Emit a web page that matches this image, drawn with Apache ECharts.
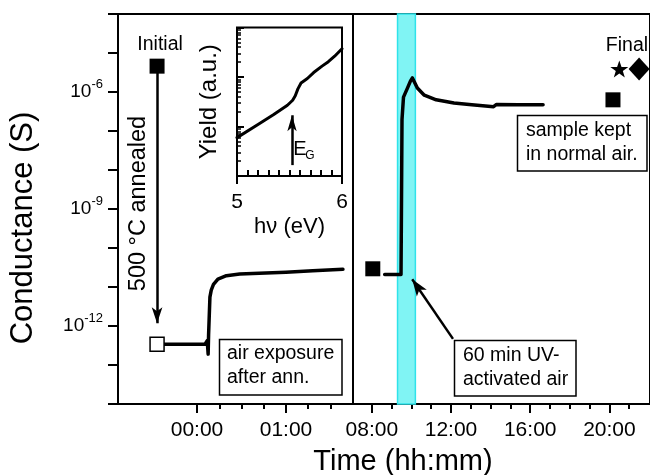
<!DOCTYPE html>
<html>
<head>
<meta charset="utf-8">
<title>Conductance vs time</title>
<script src="https://cdn.jsdelivr.net/npm/echarts@6/dist/echarts.min.js"></script>
<style>
  html, body { margin: 0; padding: 0; background: #fff; }
  #chart { width: 650px; height: 475px; }
</style>
</head>
<body>
<div id="chart"></div>
<script>
// ---- data -------------------------------------------------------------
// air exposure after annealing: time (h relative to exposure start), conductance (S)
const airTimes = [-0.382, 0.09, 0.115, 0.125, 0.13, 0.145, 0.16, 0.185, 0.235, 0.33, 0.48, 0.7, 1.0, 1.3, 1.64];
const airConductance = [3.4e-13, 3.4e-13, 4.2e-13, 1.9e-13, 5.9e-13, 5.5e-12, 8.3e-12, 1.17e-11, 1.6e-11, 1.95e-11, 2.15e-11, 2.25e-11, 2.4e-11, 2.6e-11, 2.85e-11];

// UV-activated air run: clock time (h), conductance (S)
const uvTimes = [8.65, 9.475, 9.5, 9.525, 9.6, 9.8, 9.95, 10.05, 10.15, 10.3, 10.65, 11.25, 12.15, 13.05, 14.15, 14.3, 15.4, 16.65];
const uvConductance = [2.1e-11, 2.1e-11, 1.7e-9, 2.0e-7, 7.4e-7, 1.26e-6, 1.9e-6, 2.3e-6, 1.8e-6, 1.26e-6, 8.3e-7, 6.3e-7, 5.2e-7, 4.7e-7, 4.2e-7, 4.8e-7, 4.7e-7, 4.7e-7];
const uvWindow = [9.3, 10.2];

// single measurements [time (h), conductance (S)]
const initialPoint = [-0.449, 4.6e-6];
const annealedPoint = [-0.449, 3.4e-13];
const beforeUvPoint = [8.05, 2.93e-11];
const normalAirPoint = [20.18, 6.3e-7];
const finalStarPoint = [20.5, 3.9e-6];
const finalDiamondPoint = [21.5, 3.9e-6];

// photoemission yield inset: photon energy (eV), yield (a.u.)
const photonEnergy = [5.0, 5.2, 5.35, 5.48, 5.53, 5.555, 5.58, 5.61, 5.67, 5.73, 5.81, 5.87, 5.93, 6.0];
const yieldAU = [5.96, 11.0, 17.4, 26.9, 33.9, 41.7, 57.5, 75.9, 93.3, 123, 166, 204, 263, 372];
const bandGapEnergy = 5.524;

// ticks and labels
const airMajorHours = [0, 1];
const airMinorHours = [0.25, 0.5, 0.75, 1.25, 1.5];
const clockMajorHours = [8, 12, 16, 20];
const clockMinorHours = [9, 10, 11, 13, 14, 15, 17, 18, 19, 21];
const conductanceLabelExps = [-12, -9, -6];
const insetEnergyMajor = [5, 6];
const insetEnergyMinor = [5.1, 5.2, 5.3, 5.4, 5.5, 5.6, 5.7, 5.8, 5.9];
const insetYieldDecades = [0, 1, 2, 3];

// ---- helpers ----------------------------------------------------------
const FONT = "'Liberation Sans', Arial, Helvetica, sans-serif";
const lg = v => Math.log10(v);
const toLogPairs = (xs, ys) => xs.map((x, i) => [x, lg(ys[i])]);
const pt = p => [p[0], lg(p[1])];
const pad2 = n => (n < 10 ? '0' : '') + n;
const hhmm = h => {
  const m = Math.round(h * 60);
  return pad2(Math.floor(m / 60)) + ':' + pad2(m % 60);
};
const insetMinorLogs = [];
insetYieldDecades.slice(0, -1).forEach(d => {
  for (let k = 2; k <= 9; k++) insetMinorLogs.push(d + Math.log10(k));
});

const black = '#000';
const tickStyle = { color: black, width: 2 };
const noLine = { show: false, onZero: false };
const starPath = 'path://M50,0 L61.8,35.1 L98.1,35.1 L68.8,56.8 L79.4,91 L50,70 L20.6,91 L31.2,56.8 L1.9,35.1 L38.2,35.1 Z';

const arrowLine = (from, to, size) => ({
  silent: true,
  symbol: ['none', 'arrow'],
  symbolSize: size,
  label: { show: false },
  emphasis: { disabled: true },
  lineStyle: { color: black, width: 2.5, type: 'solid', opacity: 1 },
  data: [[{ coord: from }, { coord: to }]]
});

// ---- chart ------------------------------------------------------------
const chart = echarts.init(document.getElementById('chart'));

const option = {
  animation: false,
  backgroundColor: '#fff',
  textStyle: { fontFamily: FONT, color: black },
  grid: [
    { left: 118, top: 14, width: 235, height: 390, show: true, borderColor: black, borderWidth: 2, backgroundColor: 'transparent' },
    { left: 353, top: 14, width: 300, height: 390, show: true, borderColor: black, borderWidth: 2, backgroundColor: 'transparent' },
    { left: 237, top: 27.5, width: 105, height: 148.5, show: true, borderColor: black, borderWidth: 2, backgroundColor: '#fff' }
  ],
  xAxis: [
    { // 0: air exposure, major ticks + labels
      gridIndex: 0, type: 'value', position: 'bottom', min: -0.888, max: 1.753,
      axisLine: noLine, splitLine: { show: false },
      axisTick: { customValues: airMajorHours, length: 9, lineStyle: tickStyle },
      axisLabel: { customValues: airMajorHours, formatter: hhmm, fontSize: 21, margin: 16, color: black, fontFamily: FONT }
    },
    { // 1: air exposure, minor ticks
      gridIndex: 0, type: 'value', position: 'bottom', min: -0.888, max: 1.753,
      axisLine: noLine, splitLine: { show: false }, axisLabel: { show: false },
      axisTick: { customValues: airMinorHours, length: 5, lineStyle: tickStyle }
    },
    { // 2: clock time, major ticks + labels
      gridIndex: 1, type: 'value', position: 'bottom', min: 7.05, max: 22.05,
      axisLine: noLine, splitLine: { show: false },
      axisTick: { customValues: clockMajorHours, length: 9, lineStyle: tickStyle },
      axisLabel: { customValues: clockMajorHours, formatter: hhmm, fontSize: 21, margin: 16, color: black, fontFamily: FONT }
    },
    { // 3: clock time, minor ticks
      gridIndex: 1, type: 'value', position: 'bottom', min: 7.05, max: 22.05,
      axisLine: noLine, splitLine: { show: false }, axisLabel: { show: false },
      axisTick: { customValues: clockMinorHours, length: 5, lineStyle: tickStyle }
    },
    { // 4: inset photon energy
      gridIndex: 2, type: 'value', position: 'bottom', min: 5, max: 6,
      axisLine: noLine, splitLine: { show: false },
      axisTick: { customValues: insetEnergyMajor, length: 8, lineStyle: tickStyle },
      axisLabel: { customValues: insetEnergyMajor, fontSize: 21, margin: 16, color: black, fontFamily: FONT },
      name: 'h\u03bd (eV)', nameLocation: 'middle', nameGap: 40,
      nameTextStyle: { fontSize: 22, color: black, fontFamily: FONT }
    },
    { // 5: inset minor energy ticks
      gridIndex: 2, type: 'value', position: 'bottom', min: 5, max: 6,
      axisLine: noLine, splitLine: { show: false }, axisLabel: { show: false },
      axisTick: { customValues: insetEnergyMinor, inside: true, length: 6, lineStyle: tickStyle }
    }
  ],
  yAxis: [
    { // 0: conductance decades (log10 S)
      gridIndex: 0, type: 'value', position: 'left', min: -14, max: -4, interval: 1,
      axisLine: noLine, splitLine: { show: false },
      axisTick: { length: 10, lineStyle: tickStyle },
      axisLabel: {
        margin: 15, color: black,
        formatter: v => conductanceLabelExps.indexOf(v) >= 0 ? '{b|10}{s|' + v + '}' : '',
        rich: {
          b: { fontSize: 19, fontFamily: FONT, color: black },
          s: { fontSize: 13, fontFamily: FONT, color: black, padding: [0, 0, 16, 0] }
        }
      }
    },
    { // 1: same scale for the clock-time panel
      gridIndex: 1, type: 'value', position: 'left', min: -14, max: -4, interval: 1,
      axisLine: noLine, axisTick: { show: false }, axisLabel: { show: false }, splitLine: { show: false }
    },
    { // 2: inset yield decades (log10 a.u.)
      gridIndex: 2, type: 'value', position: 'left', min: 0, max: 3, interval: 1,
      axisLine: noLine, splitLine: { show: false }, axisLabel: { show: false },
      axisTick: { inside: true, length: 7, lineStyle: tickStyle },
      name: 'Yield (a.u.)', nameLocation: 'middle', nameGap: 16,
      nameTextStyle: { fontSize: 24, color: black, fontFamily: FONT }
    },
    { // 3: inset minor log ticks
      gridIndex: 2, type: 'value', position: 'left', min: 0, max: 3,
      axisLine: noLine, splitLine: { show: false }, axisLabel: { show: false },
      axisTick: { customValues: insetMinorLogs, inside: true, length: 4, lineStyle: { color: black, width: 1.5 } }
    }
  ],
  series: [
    { // UV exposure window
      type: 'line', xAxisIndex: 2, yAxisIndex: 1, data: [], z: 1, silent: true,
      markArea: {
        silent: true,
        itemStyle: { color: '#80f4f4', borderColor: '#2fe3ea', borderWidth: 1.5, opacity: 1 },
        data: [[{ xAxis: uvWindow[0] }, { xAxis: uvWindow[1] }]]
      }
    },
    { // air exposure trace
      type: 'line', xAxisIndex: 0, yAxisIndex: 0, z: 3,
      data: toLogPairs(airTimes, airConductance),
      symbol: 'none', lineStyle: { color: black, width: 3.5, join: 'round', cap: 'round' }
    },
    { // initial state + annealing arrow
      type: 'scatter', xAxisIndex: 0, yAxisIndex: 0, z: 4,
      data: [pt(initialPoint)], symbol: 'rect', symbolSize: 15, itemStyle: { color: black, opacity: 1 },
      label: { show: true, position: 'top', distance: 4, formatter: 'Initial', fontSize: 19.5, color: black, fontFamily: FONT, offset: [3, 0] },
      markLine: arrowLine([initialPoint[0], lg(initialPoint[1])], [annealedPoint[0], -11.93], [8, 16])
    },
    { // after annealing
      type: 'scatter', xAxisIndex: 0, yAxisIndex: 0, z: 4,
      data: [pt(annealedPoint)], symbol: 'rect', symbolSize: 14,
      itemStyle: { color: '#fff', borderColor: black, borderWidth: 1.5, opacity: 1 }
    },
    { // UV-activated air trace + arrow
      type: 'line', xAxisIndex: 2, yAxisIndex: 1, z: 3,
      data: toLogPairs(uvTimes, uvConductance),
      symbol: 'none', lineStyle: { color: black, width: 3.5, join: 'round', cap: 'round' },
      markLine: arrowLine([12.1, -12.33], [10.04, -10.8], [9, 17])
    },
    { // squares in the clock-time panel
      type: 'scatter', xAxisIndex: 2, yAxisIndex: 1, z: 4,
      data: [pt(beforeUvPoint), pt(normalAirPoint)], symbol: 'rect', symbolSize: 15, itemStyle: { color: black, opacity: 1 }
    },
    { // final star
      type: 'scatter', xAxisIndex: 2, yAxisIndex: 1, z: 4,
      data: [pt(finalStarPoint)], symbol: starPath, symbolSize: 18, symbolKeepAspect: true, itemStyle: { color: black, opacity: 1 }
    },
    { // final diamond
      type: 'scatter', xAxisIndex: 2, yAxisIndex: 1, z: 4, clip: false,
      data: [pt(finalDiamondPoint)], symbol: 'diamond', symbolSize: [21, 23], itemStyle: { color: black, opacity: 1 }
    },
    { // inset yield spectrum + band-gap arrow
      type: 'line', xAxisIndex: 4, yAxisIndex: 2, z: 5,
      data: toLogPairs(photonEnergy, yieldAU),
      symbol: 'none', lineStyle: { color: black, width: 3, join: 'round', cap: 'round' },
      markLine: arrowLine([bandGapEnergy, 0.22], [bandGapEnergy, 1.227], [7, 16])
    }
  ],
  graphic: [
    { type: 'text', x: 23, y: 228, rotation: Math.PI / 2, z: 10,
      style: { text: 'Conductance (S)', font: '31px ' + FONT, fill: black, align: 'center', verticalAlign: 'middle' } },
    { type: 'text', x: 403, y: 462, z: 10,
      style: { text: 'Time (hh:mm)', font: '29px ' + FONT, fill: black, align: 'center', verticalAlign: 'middle' } },
    { type: 'text', x: 138.5, y: 203.5, rotation: Math.PI / 2, z: 10,
      style: { text: '500 \u00b0C annealed', font: '23.5px ' + FONT, fill: black, align: 'center', verticalAlign: 'middle' } },
    { type: 'text', x: 627, y: 46, z: 10,
      style: { text: 'Final', font: '19.5px ' + FONT, fill: black, align: 'center', verticalAlign: 'middle' } },
    { type: 'text', x: 300, y: 149, z: 10,
      style: { text: 'E', font: '20px ' + FONT, fill: black, align: 'center', verticalAlign: 'middle' } },
    { type: 'text', x: 310, y: 156, z: 10,
      style: { text: 'G', font: '12px ' + FONT, fill: black, align: 'center', verticalAlign: 'middle' } },
    // note boxes
    { type: 'rect', z: 9, shape: { x: 219.5, y: 339.5, width: 122.5, height: 55.5 },
      style: { fill: '#fff', stroke: black, lineWidth: 1.5 } },
    { type: 'text', x: 227, y: 341.7, z: 10,
      style: { text: 'air exposure\nafter ann.', font: '19.5px ' + FONT, lineHeight: 24, fill: black, align: 'left', verticalAlign: 'top' } },
    { type: 'rect', z: 9, shape: { x: 517.5, y: 115.5, width: 129.5, height: 55.5 },
      style: { fill: '#fff', stroke: black, lineWidth: 1.5 } },
    { type: 'text', x: 526, y: 118.5, z: 10,
      style: { text: 'sample kept\nin normal air.', font: '19.5px ' + FONT, lineHeight: 24, fill: black, align: 'left', verticalAlign: 'top' } },
    { type: 'rect', z: 9, shape: { x: 454.5, y: 340.5, width: 121.5, height: 55.5 },
      style: { fill: '#fff', stroke: black, lineWidth: 1.5 } },
    { type: 'text', x: 463, y: 344, z: 10,
      style: { text: '60 min UV-\nactivated air', font: '19.5px ' + FONT, lineHeight: 24, fill: black, align: 'left', verticalAlign: 'top' } }
  ]
};

chart.setOption(option);
</script>
</body>
</html>
